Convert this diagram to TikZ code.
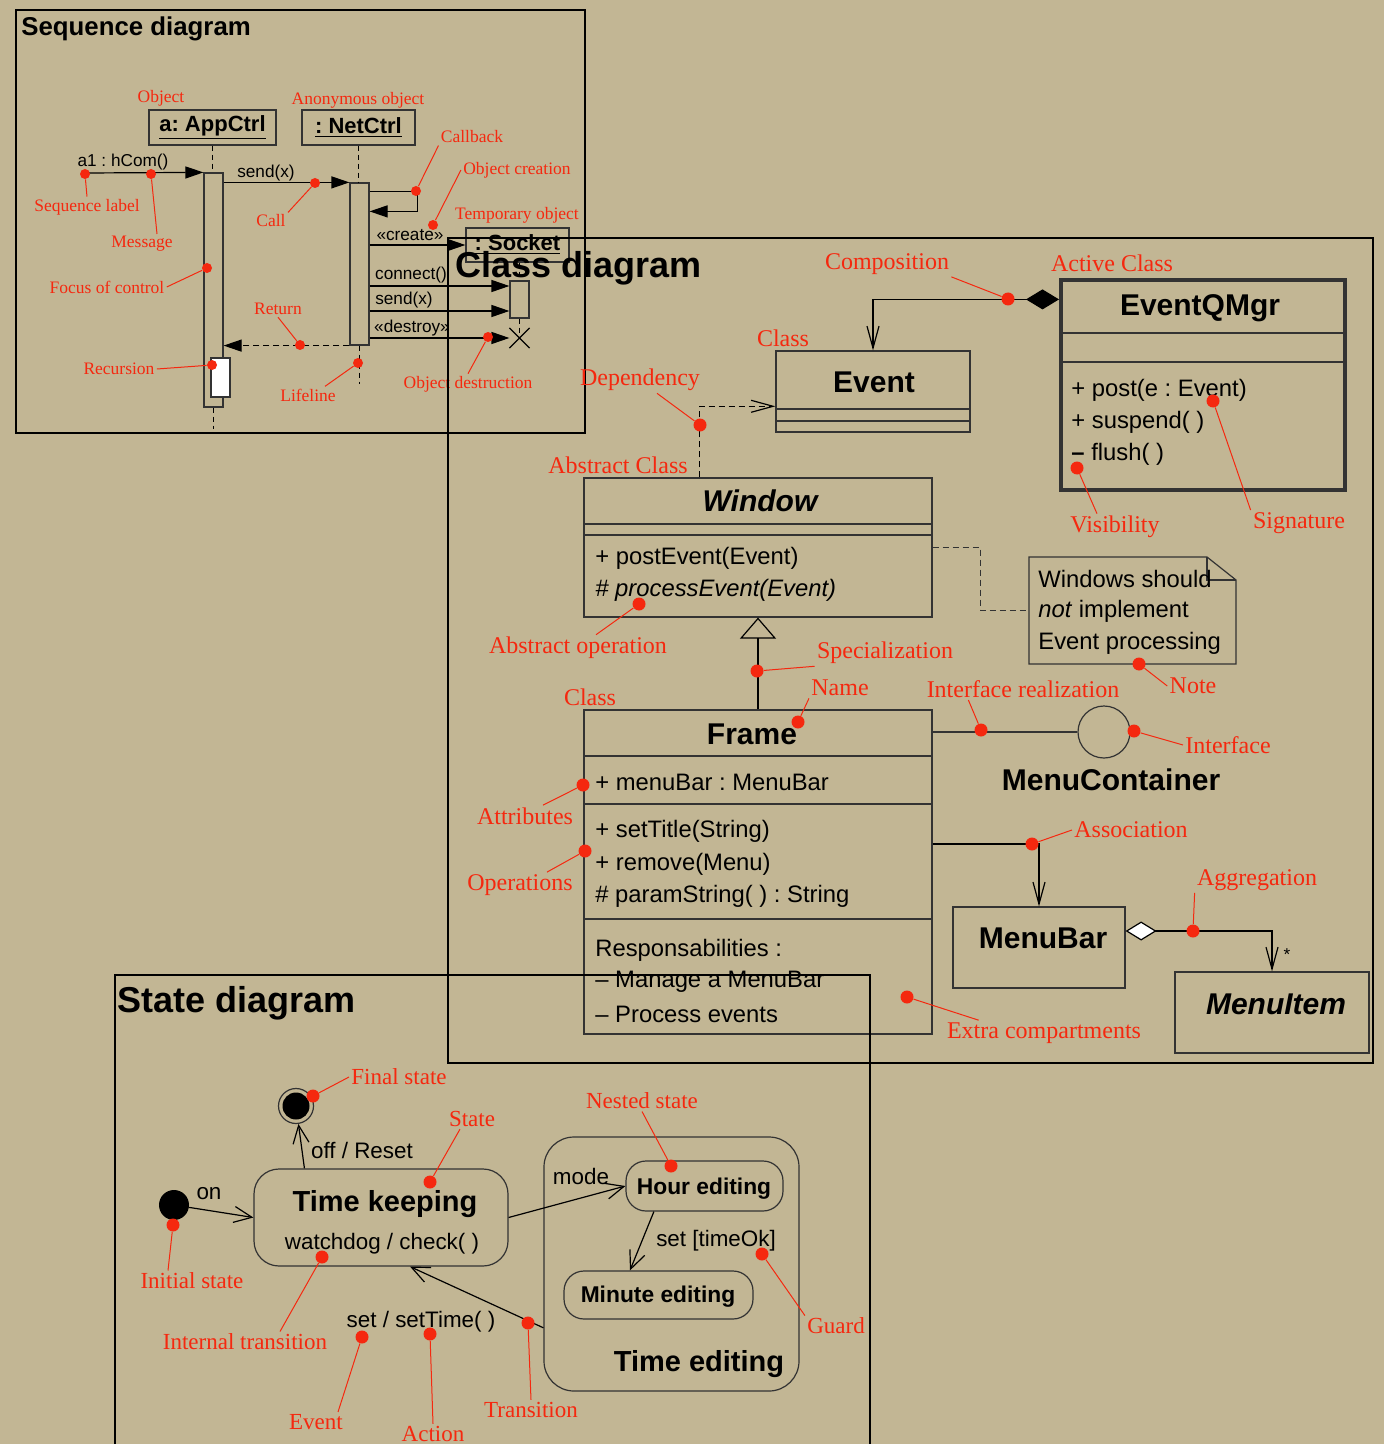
\documentclass[tikz,border=0pt]{standalone}
\usepackage{fontspec}
\setmainfont{Liberation Sans}
\newfontfamily\annfont{Liberation Serif}
\usetikzlibrary{arrows.meta,calc,fit,shapes.misc}
\definecolor{bgtan}{RGB}{194,182,148}
\definecolor{annred}{RGB}{245,40,15}
\def\annpin[#1](#2)(#3)(#4){\node[anndot,#1] (#2) at (#3) {}; \draw[annline] (#2) -- (#4);}
\frenchspacing
\tikzset{
	diagframe/.style={line width=1.3pt},
	umlbox/.style={draw=black!80, line width=0.6pt, inner sep=0pt},
	compline/.style={draw=black!80, line width=0.6pt},
	seqtitle/.style={font=\fontsize{12.9}{15}\selectfont\bfseries, anchor=west, inner sep=0pt},
	bigtitle/.style={font=\fontsize{18}{21}\selectfont\bfseries, anchor=west, inner sep=0pt},
	clsname/.style={font=\fontsize{15}{18}\selectfont\bfseries, inner sep=0pt},
	clsabs/.style={font=\fontsize{15}{18}\selectfont\bfseries\itshape, inner sep=0pt},
	clstext/.style={font=\fontsize{11.9}{14}\selectfont, anchor=west, inner sep=0pt},
	objname/.style={font=\fontsize{11}{13}\selectfont\bfseries, inner sep=0pt},
	msgtext/.style={font=\fontsize{8.6}{10}\selectfont, inner sep=0pt},
	sttext/.style={font=\fontsize{11.2}{13}\selectfont, inner sep=0pt},
	stname/.style={font=\fontsize{14.5}{17}\selectfont\bfseries, inner sep=0pt},
	stsmall/.style={font=\fontsize{11.4}{13}\selectfont\bfseries, inner sep=0pt},
	seqlab/.style={font=\annfont\fontsize{8.75}{10}\selectfont, text=annred, inner sep=1pt},
	clslab/.style={font=\annfont\fontsize{12}{14}\selectfont, text=annred, inner sep=1pt},
	stlab/.style={font=\annfont\fontsize{11.5}{13}\selectfont, text=annred, inner sep=1pt},
	anndot/.style={circle, fill=annred, inner sep=0pt, minimum size=6.5pt},
	seqpin/.style={minimum size=5pt},
	annline/.style={draw=annred, line width=0.5pt},
	msg/.style={-{Triangle[length=9pt,width=6pt]}, line width=0.6pt},
	ret/.style={msg, dash pattern=on 3pt off 2pt},
	lifeline/.style={dash pattern=on 2.5pt off 2pt, line width=0.5pt},
	assoc/.style={-{Straight Barb[length=11pt,width=6pt]}, line width=0.6pt},
	depend/.style={assoc, dash pattern=on 3pt off 2pt},
	sttrans/.style={-{Straight Barb[length=9pt,width=8pt]}, line width=0.6pt}
}

\begin{document}
\begin{tikzpicture}[x=0.5pt,y=-0.5pt]
		%%%%% START %%%%%
		
		\fill[bgtan] (0,0) rectangle (1384,1444);
		\useasboundingbox (0,0) rectangle (1384,1444);
		
		\draw[diagframe] (16,10) rectangle (585,433);
		\node[seqtitle] (seqtitle) at (21,29) {Sequence diagram};
		
		\node[umlbox, fit={(149,110)(276,145)}] (objA) {};
		\node[objname] (objAtxt) at (objA.center) {\underline{a: AppCtrl}};
		\node[umlbox, fit={(302,110)(415,145)}] (objN) {};
		\node[objname] (objNtxt) at (objN.center) {\underline{: NetCtrl}};
		\node[umlbox, fit={(204,173)(223,407)}] (actA) {};
		\node[umlbox, fill=white, fit={(211,358)(230,397)}] (recA) {};
		\node[umlbox, fit={(350,183)(369,345)}] (actN) {};
		\node[umlbox, fit={(466,228)(569,262)}] (sock) {};
		\node[objname] (socktxt) at (sock.center) {\underline{: Socket}};
		\node[umlbox, fit={(510,281)(529,318)}] (actS) {};
		\node[draw, cross out, minimum size=9.5pt, inner sep=0pt, line width=0.6pt] (xS) at (519.5,338) {};
		
		\draw[lifeline] (objA.south) -- (objA.south |- actA.north);
		\draw[lifeline] (actA.south) -- ++(0,21);
		\draw[lifeline] (objN.south) -- (objN.south |- actN.north);
		\draw[lifeline] (actN.south) -- ++(0,38);
		\draw[lifeline] (sock.south -| actS.north) -- (actS.north);
		\draw[lifeline] (actS.south) -- (xS.center);
		
		\coordinate (found) at (85,173);
		\draw[msg] (found) -- (actA.north west);
		\node[msgtext] (mHcom) at (123,162) {a1 : hCom()};
		\draw[msg] (actA.north east |- actN.north) -- (actN.north west);
		\node[msgtext] (mSend) at (266,173) {send(x)};
		\draw[msg] ($(actN.north east)+(0,9)$) -- ++(48,0) -- ++(0,20) -- ++(-48,0);
		\draw[msg] (actN.east |- sock.west) -- (sock.west);
		\node[msgtext] (mCreate) at (410,235) {«create»};
		\draw[msg] (actN.east |- 0,286) -- (actS.west |- 0,286);
		\node[msgtext] (mConn) at (411,275) {connect()};
		\draw[msg] (actN.east |- 0,311) -- (actS.west |- 0,311);
		\node[msgtext] (mSend2) at (404,300) {send(x)};
		\draw[msg] (actN.east |- xS.west) -- (xS.west);
		\node[msgtext] (mDestroy) at (412,328) {«destroy»};
		\draw[ret] (actN.south west) -- (actA.east |- actN.south);
		
		\node[seqlab] (lObj) at (161,98) {Object};
		\node[seqlab] (lAnon) at (358,100) {Anonymous object};
		\node[seqlab] (lCb) at (472,137) {Callback};
		\node[seqlab] (lOc) at (517,170) {Object creation};
		\node[seqlab] (lTmp) at (517,215) {Temporary object};
		\node[seqlab] (lSeq) at (87,207) {Sequence label};
		\node[seqlab] (lMsg) at (142,244) {Message};
		\node[seqlab] (lCall) at (271,221) {Call};
		\node[seqlab] (lFoc) at (107,287) {Focus of control};
		\node[seqlab] (lRet) at (278,309) {Return};
		\node[seqlab] (lRec) at (119,369) {Recursion};
		\node[seqlab] (lLife) at (308,395) {Lifeline};
		\node[seqlab] (lOd) at (468,384) {Object destruction};
		
		\annpin[seqpin](dSeq)(85,174)(lSeq.north)
		\annpin[seqpin](dMsg)(151,174)({$(lMsg.north)+(15,0)$})
		\annpin[seqpin](dFoc)(207,268)(lFoc.east)
		\annpin[seqpin](dCall)(315,183)(lCall.north east)
		\annpin[seqpin](dCb)(416,191)(lCb.south west)
		\annpin[seqpin](dOc)(433,225)(lOc.west)
		\annpin[seqpin](dRet)(300,345)(lRet.south)
		\annpin[seqpin](dRec)(212,365)(lRec.east)
		\annpin[seqpin](dLife)(358,363)({$(lLife.north)+(17,0)$})
		\annpin[seqpin](dOd)(488,337)(lOd.north)
		
		\draw[diagframe] (448,238) rectangle (1373,1063);
		\node[bigtitle] (clstitle) at (455,268) {Class diagram};
		
		\node[umlbox, line width=2pt, fit={(1061,280)(1345,490)}] (qmgr) {};
		\draw[compline] (1061,333) -- (1345,333);
		\draw[compline] (1061,362) -- (1345,362);
		\node[clsname] (nQmgr) at (1200,308) {EventQMgr};
		\node[clstext] (qPost) at (1071,390) {+ post(e : Event)};
		\node[clstext] (qSusp) at (1071,422) {+ suspend( )};
		\node[clstext] (qFlush) at (1071,454) {{\bfseries –} flush( )};
		
		\node[umlbox, fit={(776,351)(970,432)}] (event) {};
		\draw[compline] (776,409) -- (970,409);
		\draw[compline] (776,421) -- (970,421);
		\node[clsname] (nEvent) at (874,382) {Event};
		
		\node[umlbox, fit={(584,478)(932,617)}] (window) {};
		\draw[compline] (584,524) -- (932,524);
		\draw[compline] (584,535) -- (932,535);
		\node[clsabs] (nWindow) at (760,501) {Window};
		\node[clstext] (wPost) at (595,558) {+ postEvent(Event)};
		\node[clstext, font=\fontsize{11.9}{14}\selectfont\itshape] (wProc) at (595,590) {\# processEvent(Event)};
		
		\draw[compline] (1029,557) -- (1207,557) -- (1236,580) -- (1236,664) -- (1029,664) -- cycle;
		\draw[compline] (1207,557) -- (1207,580) -- (1236,580);
		\node[fit={(1029,557)(1236,664)}, inner sep=0pt] (note) {};
		\node[clstext] (nt1) at (1038,579) {Windows should};
		\node[clstext] (nt2) at (1038,611) {\textit{not} implement};
		\node[clstext] (nt3) at (1038,643) {Event processing};
		
		\node[umlbox, fit={(584,710)(932,1034)}] (frame) {};
		\draw[compline] (584,756) -- (932,756);
		\draw[compline] (584,804) -- (932,804);
		\draw[compline] (584,919) -- (932,919);
		\node[clsname] (nFrame) at (752,734) {Frame};
		\node[clstext] (fAttr) at (595,782) {+ menuBar : MenuBar};
		\node[clstext] (fOp1) at (595,831) {+ setTitle(String)};
		\node[clstext] (fOp2) at (595,864) {+ remove(Menu)};
		\node[clstext] (fOp3) at (595,896) {\# paramString( ) : String};
		\node[clstext] (fRes) at (595,950) {Responsabilities :};
		\node[clstext] (fRes1) at (595,982) {– Manage a MenuBar};
		\node[clstext] (fRes2) at (595,1014) {– Process events};
		
		\node[circle, draw=black!80, line width=0.6pt, minimum size=26pt, inner sep=0pt] (iface) at (1104,732) {};
		\node[clsname] (nIface) at (1111,780) {MenuContainer};
		\node[umlbox, fit={(953,907)(1125,988)}] (menubar) {};
		\node[clsname] (nMenubar) at (1043,938) {MenuBar};
		\node[umlbox, fit={(1175,972)(1369,1053)}] (menuitem) {};
		\node[clsabs] (nMenuitem) at (1276,1004) {MenuItem};
		\node[msgtext] (mult) at (1287,955) {*};
		
		\draw[line width=0.6pt, {Diamond[length=16.5pt,width=10pt]}-{Straight Barb[length=11pt,width=6pt]}] ($(qmgr.north west)!0.1!(qmgr.south west)$) -| (event.north);
		\draw[depend] ($(window.north west)!0.333!(window.north east)$) |- ($(event.north west)!0.68!(event.south west)$);
		\draw[line width=0.6pt, -{Triangle[open,length=10.5pt,width=18pt]}] (frame.north) -- (window.south);
		\draw[compline, dash pattern=on 3pt off 2pt] (window.east) -| ($(window.east)!0.5!(note.west)$) |- (note.west);
		\draw[compline] (frame.east |- iface.west) -- (iface.west);
		\draw[assoc] (frame.east |- 0,844) -| (menubar.north);
		\draw[line width=0.6pt, {Diamond[fill=white,length=15.5pt,width=9.5pt]}-{Straight Barb[length=11pt,width=6pt]}] (menubar.east |- 0,931) -| (menuitem.north);
		
		\node[clslab] (lComp) at (887,264) {Composition};
		\node[clslab] (lActive) at (1112,263) {Active Class};
		\node[clslab] (lClass1) at (783,338) {Class};
		\node[clslab] (lDep) at (640,380) {Dependency};
		\node[clslab] (lAbs) at (618,465) {Abstract Class};
		\node[clslab] (lAop) at (578,648) {Abstract operation};
		\node[clslab] (lSpec) at (885,653) {Specialization};
		\node[clslab] (lClass2) at (590,697) {Class};
		\node[clslab] (lName) at (840,688) {Name};
		\node[clslab] (lIr) at (1023,689) {Interface realization};
		\node[clslab] (lNote) at (1193,686) {Note};
		\node[clslab] (lIf) at (1228,745) {Interface};
		\node[clslab] (lAttr) at (525,816) {Attributes};
		\node[clslab] (lOps) at (520,885) {Operations};
		\node[clslab] (lAssoc) at (1131,830) {Association};
		\node[clslab] (lAggr) at (1257,880) {Aggregation};
		\node[clslab] (lExtra) at (1044,1033) {Extra compartments};
		\node[clslab] (lVis) at (1115,527) {Visibility};
		\node[clslab] (lSig) at (1299,523) {Signature};
		
		\annpin[](dComp)(1008,299)(lComp.south east)
		\annpin[](dDep)(700,425)({$(lDep.south)+(17,0)$})
		\annpin[](dAop)(639,604)({$(lAop.north)+(18,0)$})
		\annpin[](dSpec)(757,671)(lSpec.south west)
		\annpin[](dName)(798,722)(lName.south west)
		\annpin[](dNote)(1139,664)(lNote.west)
		\annpin[](dIr)(981,730)({$(lIr.south west)+(44,0)$})
		\annpin[](dIf)(1134,731)(lIf.west)
		\annpin[](dAttr)(583,785)({$(lAttr.north)+(18,0)$})
		\annpin[](dOps)(585,851)({$(lOps.north)+(27,0)$})
		\annpin[](dAssoc)(1032,844)(lAssoc.west)
		\annpin[](dAggr)(1193,931)(lAggr.south west)
		\annpin[](dExtra)(907,997)({$(lExtra.north west)+(34,0)$})
		\annpin[](dVis)(1077,468)({$(lVis.north)+(-18,0)$})
		\annpin[](dSig)(1213,401)(lSig.north west)
		
		\draw[diagframe] (115,1460) -- (115,975) -- (870,975) -- (870,1460);
		\node[bigtitle] (sttitle) at (117,1003) {State diagram};
		
		\node[circle, draw=black!80, line width=0.6pt, minimum size=17.5pt, inner sep=0pt] (final) at (296,1106) {};
		\fill (final) circle (6.75pt);
		\node[circle, fill, minimum size=15pt, inner sep=0pt] (init) at (174,1205) {};
		\node[umlbox, rounded corners=12.5pt, fit={(254,1169)(508,1266)}] (tk) {};
		\node[stname] (nTk) at (385,1204) {Time keeping};
		\node[sttext] (tkInt) at (382,1244) {watchdog / check( )};
		\node[umlbox, rounded corners=15pt, fit={(544,1137)(799,1391)}] (tedit) {};
		\node[stname] (nTedit) at (699,1364) {Time editing};
		\node[umlbox, rounded corners=10pt, fit={(626,1161)(783,1211)}] (hour) {};
		\node[stsmall] (nHour) at (704,1189) {Hour editing};
		\node[umlbox, rounded corners=10pt, fit={(564,1271)(753,1319)}] (minute) {};
		\node[stsmall] (nMinute) at (658,1297) {Minute editing};
		
		\draw[sttrans] (init) -- (tk.west);
		\node[sttext] (tOn) at (209,1194) {on};
		\draw[sttrans] ($(tk.north west)!0.2!(tk.north east)$) -- (final);
		\node[sttext] (tOff) at (362,1150) {off / Reset};
		\draw[sttrans] (tk.east) -- (hour.west);
		\node[sttext] (tMode) at (581,1176) {mode};
		\draw[sttrans] ($(hour.south west)!0.18!(hour.south east)$) -- ($(minute.north west)!0.35!(minute.north east)$);
		\node[sttext] (tSet) at (716,1241) {set [timeOk]};
		\draw[sttrans] ($(tedit.north west)!0.75!(tedit.south west)$) -- ($(tk.south west)!0.614!(tk.south east)$);
		\node[sttext] (tSetTime) at (421,1322) {set / setTime( )};
		
		\node[stlab] (lFin) at (399,1077) {Final state};
		\node[stlab] (lState) at (472,1119) {State};
		\node[stlab] (lNest) at (642,1101) {Nested state};
		\node[stlab] (lInit) at (192,1281) {Initial state};
		\node[stlab] (lInt) at (245,1342) {Internal transition};
		\node[stlab] (lGuard) at (836,1326) {Guard};
		\node[stlab] (lEv) at (316,1422) {Event};
		\node[stlab] (lAct) at (433,1434) {Action};
		\node[stlab] (lTr) at (531,1410) {Transition};
		
		\annpin[](dFin)(313,1096)(lFin.west)
		\annpin[](dState)(430,1182)({$(lState.south)+(-12,0)$})
		\annpin[](dNest)(671,1166)(lNest.south)
		\annpin[](dInit)(173,1225)({$(lInit.north)+(-24,0)$})
		\annpin[](dInt)(322,1257)({$(lInt.north)+(35,0)$})
		\annpin[](dGuard)(762,1254)(lGuard.north west)
		\annpin[](dEv)(362,1337)({$(lEv.north)+(22,0)$})
		\annpin[](dAct)(430,1334)(lAct.north)
		\annpin[](dTr)(528,1323)(lTr.north)
		
		%%%%% END %%%%%
	\end{tikzpicture}
\end{document}
